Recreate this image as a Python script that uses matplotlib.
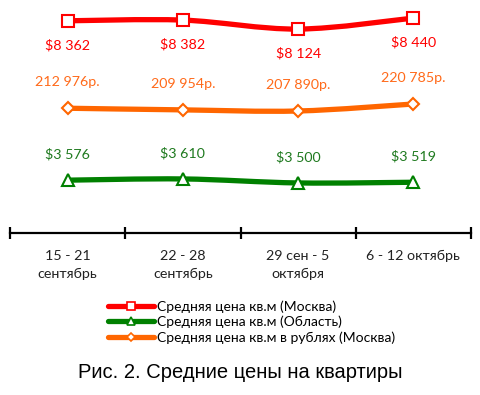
import matplotlib
matplotlib.use("Agg")
import matplotlib.pyplot as plt
import numpy as np
from matplotlib.path import Path
from matplotlib.patches import PathPatch
from matplotlib.lines import Line2D

categories = ["15 - 21\nсентябрь", "22 - 28\nсентябрь", "29 сен - 5\nоктября", "6 - 12 октябрь"]
usd_moscow = [8362, 8382, 8124, 8440]
usd_region = [3576, 3610, 3500, 3519]
rub_moscow = [212976, 209954, 207890, 220785]

labels_usd_moscow = ["$8 362", "$8 382", "$8 124", "$8 440"]
labels_usd_region = ["$3 576", "$3 610", "$3 500", "$3 519"]
labels_rub_moscow = ["212 976р.", "209 954р.", "207 890р.", "220 785р."]

legend_names = ["Средняя цена кв.м (Москва)", "Средняя цена кв.м (Область)",
                "Средняя цена кв.м в рублях (Москва)"]
title = "Рис. 2. Средние цены на квартиры"

W, H = 480, 395
fig = plt.figure(figsize=(W / 100, H / 100), dpi=100)
ax = fig.add_axes([10 / W, 1 - 233 / H, 461 / W, 233 / H])

LF = "Lato"

def smooth_path(xs, ys):
    pts = np.column_stack([xs, ys]).astype(float)
    n = len(pts)
    verts = [pts[0]]
    codes = [Path.MOVETO]
    for i in range(n - 1):
        p0 = pts[max(i - 1, 0)]
        p1 = pts[i]
        p2 = pts[i + 1]
        p3 = pts[min(i + 2, n - 1)]
        c1 = p1 + (p2 - p0) / 6
        c2 = p2 - (p3 - p1) / 6
        verts += [c1, c2, p2]
        codes += [Path.CURVE4] * 3
    return Path(verts, codes)

x = np.arange(len(categories))

series = [
    (usd_moscow, labels_usd_moscow, "#FF0000", "#FF0000", "s", (2269, 8959), -24),
    (usd_region, labels_usd_region, "#008000", "#1F7A1F", "^", (2125, 8525), 26),
    (rub_moscow, labels_rub_moscow, "#FF6600", "#FF6A1A", "D", (-16800, 412300), 26),
]

handles = []
for vals, labs, col, tcol, mk, lim, off in series:
    a = ax.twinx()
    a.set_ylim(*lim)
    a.set_xlim(-0.5, 3.5)
    a.axis("off")
    patch = PathPatch(smooth_path(x, vals), facecolor="none", edgecolor=col,
                      lw=3.8, capstyle="round", clip_on=False)
    a.add_patch(patch)
    ms = 8 if mk != "D" else 6.5
    a.plot(x, vals, linestyle="none", marker=mk, markersize=ms, markerfacecolor="white",
           markeredgecolor=col, markeredgewidth=1.5, clip_on=False)
    for xi, v, t in zip(x, vals, labs):
        a.annotate(t, (xi, v), xytext=(0, off), textcoords="offset pixels",
                   ha="center", va="center", color=tcol, fontsize=10.3, family=LF)
    handles.append(Line2D([], [], color=col, lw=3.8, marker=mk, markersize=ms * 0.7,
                          markerfacecolor="white", markeredgecolor=col, markeredgewidth=1.2,
                          solid_capstyle="round"))

ax.set_xlim(-0.5, 3.5)
ax.set_ylim(0, 1)
for s in ["top", "right", "left"]:
    ax.spines[s].set_visible(False)
ax.spines["bottom"].set_linewidth(1.6)
ax.set_yticks([])
ax.set_xticks(x)
ax.set_xticklabels(categories, fontsize=10.3, family=LF, color="#222222", linespacing=1.6)
ax.tick_params(axis="x", which="major", length=0, pad=12)
ax.set_xticks(np.arange(-0.5, 4, 1), minor=True)
ax.tick_params(axis="x", which="minor", length=8, width=1.6, direction="inout")

fig.legend(handles, legend_names, loc="upper left", bbox_to_anchor=(108 / W, 1 - 300 / H),
           frameon=False, prop={"family": LF, "size": 10},
           handlelength=3.3, handletextpad=0.2, labelspacing=0.22, borderpad=0, borderaxespad=0)

fig.text(0.5, 1 - 372 / H, title, ha="center", va="center", fontsize=14.5,
         family="Liberation Sans", color="black")

fig.savefig("out.png", dpi=100)
